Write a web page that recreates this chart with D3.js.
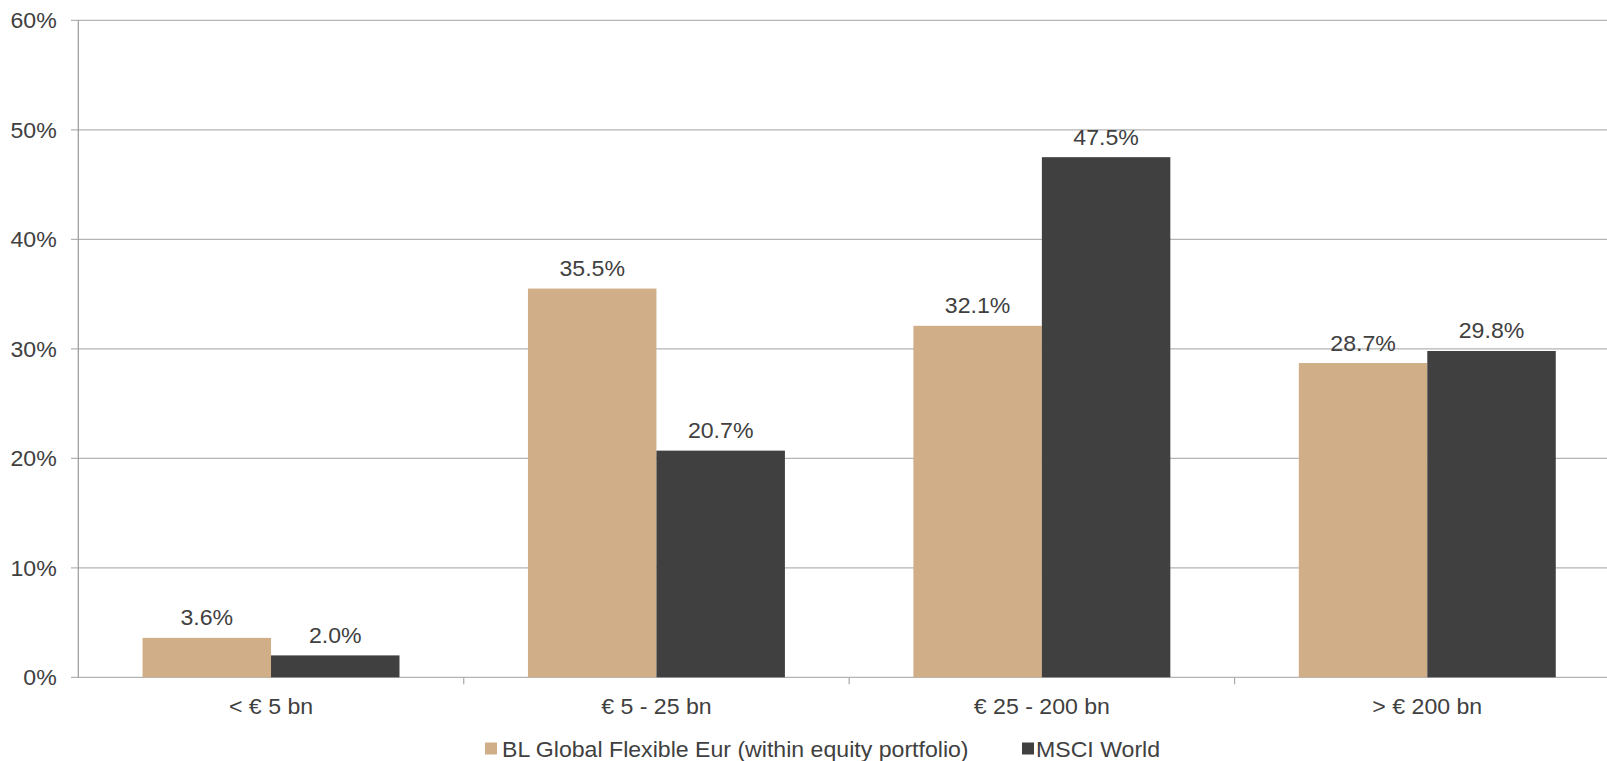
<!DOCTYPE html>
<html><head><meta charset="utf-8">
<script src="https://cdn.jsdelivr.net/npm/d3@7/dist/d3.min.js"></script>
<style>
html,body{margin:0;padding:0;background:#fff;overflow:hidden}
text{font-family:"Liberation Sans",Arial,sans-serif;fill:#404040}
</style></head>
<body>
<svg id="chart" width="1607" height="761"></svg>
<script>
const categories = ["< € 5 bn", "€ 5 - 25 bn", "€ 25 - 200 bn", "> € 200 bn"];
const seriesNames = ["BL Global Flexible Eur (within equity portfolio)", "MSCI World"];
const fundValues = [3.6, 35.5, 32.1, 28.7];
const msciValues = [2.0, 20.7, 47.5, 29.8];
const yTicks = [0, 10, 20, 30, 40, 50, 60];
const colors = ["#D0AF88", "#404040"];

const svg = d3.select("#chart");
const SX = 1.075, FS = 21.5;
const pLeft = 78.3, pRight = 1620, pTop = 20.3, pBottom = 677.3;

const x = d3.scaleBand().domain(categories).range([pLeft, pRight]).padding(0);
const bw = x.bandwidth();
const x1 = d3.scaleBand().domain(seriesNames).range([bw/6, bw*5/6]).padding(0);
const y = d3.scaleLinear().domain([0, 60]).range([pBottom, pTop]);

function label(g, tx, ty, txt, anchor) {
  g.append("text")
    .attr("transform", `translate(${tx},${ty}) scale(${SX},1)`)
    .attr("text-anchor", anchor || "middle")
    .style("font-size", FS + "px")
    .text(txt);
}

// gridlines
svg.append("g").selectAll("line").data(yTicks).join("line")
  .attr("x1", 71).attr("x2", 1607)
  .attr("y1", d => y(d)).attr("y2", d => y(d))
  .attr("stroke", "#b4b4b4").attr("stroke-width", 1.3);

// y axis via d3
const yAxis = svg.append("g").attr("transform", `translate(${pLeft},0)`)
  .call(d3.axisLeft(y).tickValues(yTicks).tickFormat(d => d + "%").tickSize(0));
yAxis.select(".domain").remove();
yAxis.selectAll("text").remove();
yAxis.selectAll(".tick").each(function(d) {
  label(d3.select(this), -21.6, 7.5, d + "%", "end");
});
svg.append("line").attr("x1", pLeft).attr("x2", pLeft).attr("y1", pTop).attr("y2", pBottom)
  .attr("stroke", "#999").attr("stroke-width", 1.2);

// x axis
const xAxis = svg.append("g").attr("transform", `translate(0,${pBottom})`)
  .call(d3.axisBottom(x).tickSize(0).tickFormat(""));
xAxis.select(".domain").remove();
const bounds = categories.map(c => x(c) + bw);
svg.append("g").selectAll("line").data(bounds).join("line")
  .attr("x1", d => d).attr("x2", d => d).attr("y1", pBottom).attr("y2", pBottom + 7)
  .attr("stroke", "#aaa").attr("stroke-width", 1.2);
categories.forEach(c => label(svg, x(c) + bw/2, 713.5, c));

// bars
const data = categories.map((c, i) => ({cat: c, vals: [fundValues[i], msciValues[i]]}));
const groups = svg.append("g").selectAll("g").data(data).join("g")
  .attr("transform", d => `translate(${x(d.cat)},0)`);
groups.selectAll("rect").data(d => d.vals.map((v, j) => ({v, s: seriesNames[j], j}))).join("rect")
  .attr("x", d => x1(d.s)).attr("width", x1.bandwidth())
  .attr("y", d => y(d.v)).attr("height", d => pBottom - y(d.v))
  .attr("fill", d => colors[d.j]);
groups.each(function(d) {
  const g = d3.select(this);
  d.vals.forEach((v, j) => {
    label(g, x1(seriesNames[j]) + x1.bandwidth()/2, y(v) - 12.5, v.toFixed(1) + "%");
  });
});

// legend
const legendX = [485, 1022];
const legendTX = [502, 1036];
seriesNames.forEach((s, j) => {
  svg.append("rect").attr("x", legendX[j]).attr("y", 742.5).attr("width", 12).attr("height", 12)
    .attr("fill", colors[j]);
  label(svg, legendTX[j], 756.5, s, "start");
});
</script>
</body></html>
